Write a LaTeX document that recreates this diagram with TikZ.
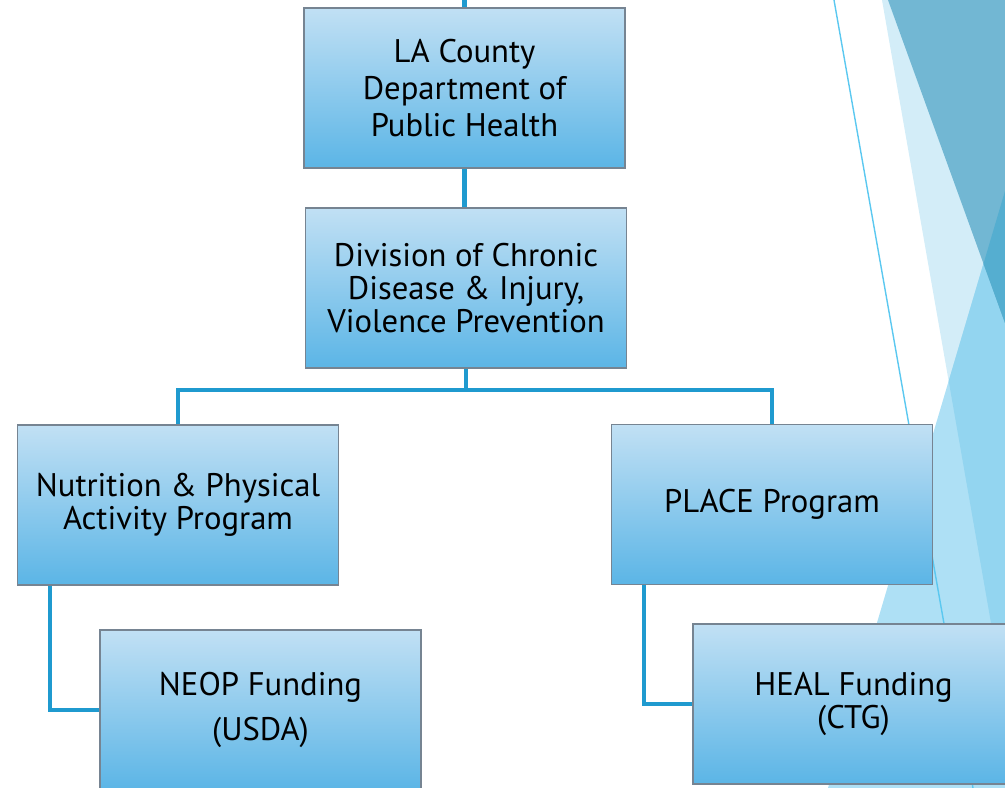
\documentclass[tikz,border=0pt]{standalone}
\usepackage{fontspec}
\setmainfont{PT Sans}
\definecolor{boxtop}{RGB}{193,224,244}
\definecolor{boxbottom}{RGB}{91,181,230}
\definecolor{boxline}{RGB}{118,132,146}
\definecolor{linkblue}{RGB}{31,154,207}
\definecolor{facetpale}{RGB}{211,237,248}
\definecolor{facetlight}{RGB}{174,224,245}
\definecolor{facetmid}{RGB}{147,213,240}
\definecolor{facetdark}{RGB}{114,183,211}
\definecolor{facetdeep}{RGB}{85,174,208}
\definecolor{facetrule}{RGB}{91,200,240}
\begin{document}
\begin{tikzpicture}[x = 0.02cm, y = -0.02cm,
                        box/.style = {draw = boxline, line width = 0.7pt, top color = boxtop, bottom color = boxbottom,
                                      minimum width = 6.42cm, minimum height = 3.2cm, inner sep = 0pt, align = center,
                                      font = \fontsize{18.6}{21}\selectfont},
                        link/.style = {draw = linkblue, line width = 2.3pt}]
      \useasboundingbox (0, 0) rectangle (1005, 788);
      \clip (0, 0) rectangle (1005, 788);
      \fill [facetpale] (882, 0) -- (1005, 0) -- (1005, 703) -- cycle;
      \fill [facetlight] (1005, 191) -- (828, 788) -- (1005, 788) -- cycle;
      \fill [facetmid] (1005, 191) -- (948.7, 381) -- (1005, 703) -- cycle;
      \fill [facetdark] (888, 0) -- (1005, 0) -- (1005, 323) -- cycle;
      \fill [facetdeep] (1005, 191) -- (983.5, 263.7) -- (1005, 323) -- cycle;
      \draw [facetrule, line width = 0.8pt] (834, 0) -- (973, 788);
      \node [box] (dph) at (464.5, 88) {LA County\\Department of\\Public Health};
      \node [box, font = \fontsize{18.6}{18.8}\selectfont] (div) at (466, 288) {Division of Chronic\\Disease \& Injury,\\Violence Prevention};
      \node [box, font = \fontsize{18.6}{18.8}\selectfont] (nut) at (178, 505) {Nutrition \& Physical\\Activity Program};
      \node [box] (place) at (772, 504.5) {PLACE Program};
      \node [box, font = \fontsize{18.6}{26}\selectfont] (neop) at (260.5, 710) {NEOP Funding\\(USDA)};
      \node [box, font = \fontsize{18.6}{18.8}\selectfont] (heal) at (853.5, 704) {HEAL Funding\\(CTG)};
      \coordinate (stub) at (464.5, 0);
      \coordinate (bus) at (466, 390);
      \draw [link] (stub) -- (dph.north);
      \draw [link] (dph.south) -- (div.north -| dph.south);
      \draw [link] (div.south) -- (bus) -| (nut.north);
      \draw [link] (bus) -| (place.north);
      \draw [link] ([xshift = 0.66cm]nut.south west) |- (neop.west);
      \draw [link] ([xshift = 0.66cm]place.south west) |- (heal.west);
    \end{tikzpicture}
\end{document}
